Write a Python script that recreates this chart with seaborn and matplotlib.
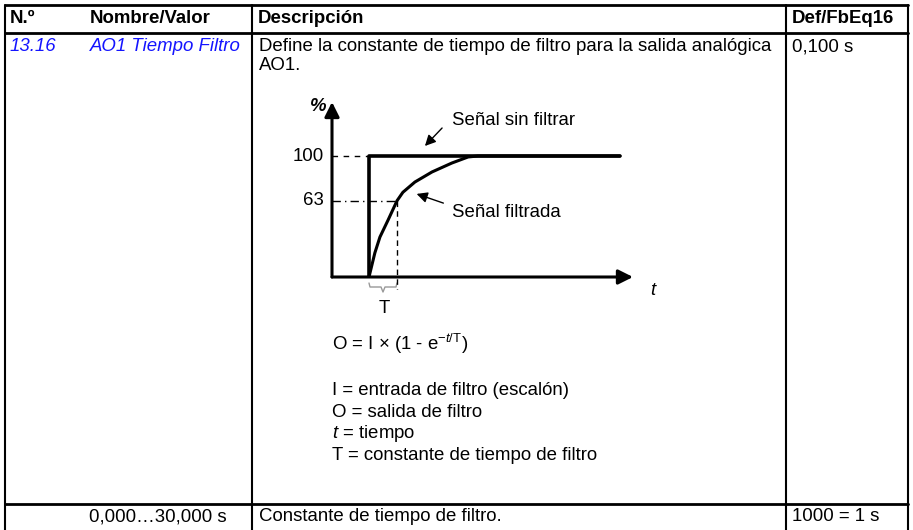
import numpy as np
import pandas as pd
import matplotlib
matplotlib.use("Agg")
import matplotlib.pyplot as plt
import seaborn as sns

sns.set_style("white")
plt.rcParams['font.family'] = ['Liberation Sans', 'DejaVu Sans']
plt.rcParams['text.color'] = 'black'
plt.rcParams['mathtext.fontset'] = 'custom'
plt.rcParams['mathtext.rm'] = 'Liberation Sans'
plt.rcParams['mathtext.it'] = 'Liberation Sans:italic'
plt.rcParams['mathtext.bf'] = 'Liberation Sans:bold'

# table texts
headers = ["N.º", "Nombre/Valor", "Descripción", "Def/FbEq16"]
param_no = "13.16"
param_name = "AO1 Tiempo Filtro"
desc_lines = ["Define la constante de tiempo de filtro para la salida analógica", "AO1."]
default_val = "0,100 s"
range_txt = "0,000…30,000 s"
range_desc = "Constante de tiempo de filtro."
fbeq = "1000 = 1 s"
legend_lines = ["I = entrada de filtro (escalón)", "O = salida de filtro",
                "$t$ = tiempo", "T = constante de tiempo de filtro"]

# diagram data (time in units of T, output in %)
step_t = [0, 0, 8.96]
step_y = [0, 100, 100]
filt_t = [0, 0.21, 0.39, 0.68, 1.0, 1.21, 1.64, 2.25, 2.96, 3.54, 3.89, 8.96]
filt_y = [0, 20, 33, 47, 63, 70, 78.5, 86.8, 94.2, 99.2, 100, 100]
levels = [100, 63]

W, H = 913, 530
fig = plt.figure(figsize=(W / 100, H / 100), dpi=100)
bg = fig.add_axes([0, 0, 1, 1])
bg.set_xlim(0, W)
bg.set_ylim(H, 0)
bg.axis("off")

fs = 13.4
blue = "#1414ff"

# table lines
bg.plot([5, 908], [5, 5], color="black", lw=2)
bg.plot([5, 908], [33, 33], color="black", lw=2)
bg.plot([5, 908], [504, 504], color="black", lw=2)
for x in [5, 252, 786, 908]:
    bg.plot([x, x], [5, 530], color="black", lw=1.5)

# header
for x, h in zip([10, 90, 258, 792], headers):
    bg.text(x, 23, h, fontsize=fs, fontweight="bold", va="baseline")

bg.text(10, 51, param_no, fontsize=fs, style="italic", color=blue, va="baseline")
bg.text(90, 51, param_name, fontsize=fs, style="italic", color=blue, va="baseline")
for i, line in enumerate(desc_lines):
    bg.text(259, 51 + 19 * i, line, fontsize=fs, va="baseline")
bg.text(792, 51, default_val, fontsize=fs, va="baseline")

bg.text(89, 521, range_txt, fontsize=fs, va="baseline")
bg.text(259, 521, range_desc, fontsize=fs, va="baseline")
bg.text(792, 521, fbeq, fontsize=fs, va="baseline")

# diagram labels
bg.text(310, 111, "%", fontsize=fs, fontweight="bold", style="italic", va="baseline")
bg.text(324, 161, "100", fontsize=fs, va="baseline", ha="right")
bg.text(324, 205, "63", fontsize=fs, va="baseline", ha="right")
bg.text(452, 125, "Señal sin filtrar", fontsize=fs, va="baseline")
bg.text(452, 217, "Señal filtrada", fontsize=fs, va="baseline")
bg.text(650, 295, "t", fontsize=fs, style="italic", va="baseline")
bg.text(384, 313, "T", fontsize=fs, va="baseline", ha="center")
bg.annotate("", xy=(423, 148), xytext=(444, 126),
            arrowprops=dict(arrowstyle="-|>", lw=1, color="black", mutation_scale=16))
bg.annotate("", xy=(414, 193), xytext=(446, 204),
            arrowprops=dict(arrowstyle="-|>", lw=1, color="black", mutation_scale=16))
# brace under T
bg.plot([369, 370, 381, 383, 385, 396, 397], [283, 287, 287, 292, 287, 287, 283],
        color="#999999", lw=1)

legend_x = 332
bg.text(legend_x, 350, r"O = I × (1 - e$^{-t/\mathrm{T}}$)", fontsize=fs, va="baseline")
for i, line in enumerate(legend_lines):
    bg.text(legend_x, 395 + 21.7 * i, line, fontsize=fs, va="baseline")

# diagram axes: t=0 at px 369, T=28 px; 0% at px 277, 100% at px 156
x0, xT = 369, 28
y0, y100 = 277, 121
left, right, top = 332, 633, 102
ax = fig.add_axes([left / W, 1 - y0 / H, (right - left) / W, (y0 - top) / H])
ax.set_xlim((left - x0) / xT, (right - x0) / xT)
ax.set_ylim(0, (y0 - top) / y100 * 100)
ax.axis("off")
ax.patch.set_alpha(0)

step_df = pd.DataFrame({"t": step_t, "y": step_y})
filt_df = pd.DataFrame({"t": filt_t, "y": filt_y})
sns.lineplot(data=step_df, x="t", y="y", sort=False, estimator=None,
             color="black", lw=2.6, ax=ax)
sns.lineplot(data=filt_df, x="t", y="y", sort=False, estimator=None,
             color="black", lw=2.2, ax=ax)

xmin = (left - x0) / xT
ax.plot([xmin, 0], [levels[0], levels[0]], color="black", lw=1, ls=(0, (4, 4)))
ax.plot([xmin, 1], [levels[1], levels[1]], color="black", lw=1, ls=(0, (6, 3, 1, 3)))
ax.plot([1, 1], [levels[1], -10], color="black", lw=1, ls=(0, (4, 3)), clip_on=False)

# axis arrows
ax.annotate("", xy=(0, 1), xytext=(0, 0), xycoords="axes fraction",
            arrowprops=dict(arrowstyle="-|>", lw=2.2, color="black", mutation_scale=22,
                            shrinkA=0, shrinkB=0))
ax.annotate("", xy=(1, 0), xytext=(0, 0), xycoords="axes fraction",
            arrowprops=dict(arrowstyle="-|>", lw=2.2, color="black", mutation_scale=22,
                            shrinkA=0, shrinkB=0))

fig.savefig("out.png", dpi=100)
